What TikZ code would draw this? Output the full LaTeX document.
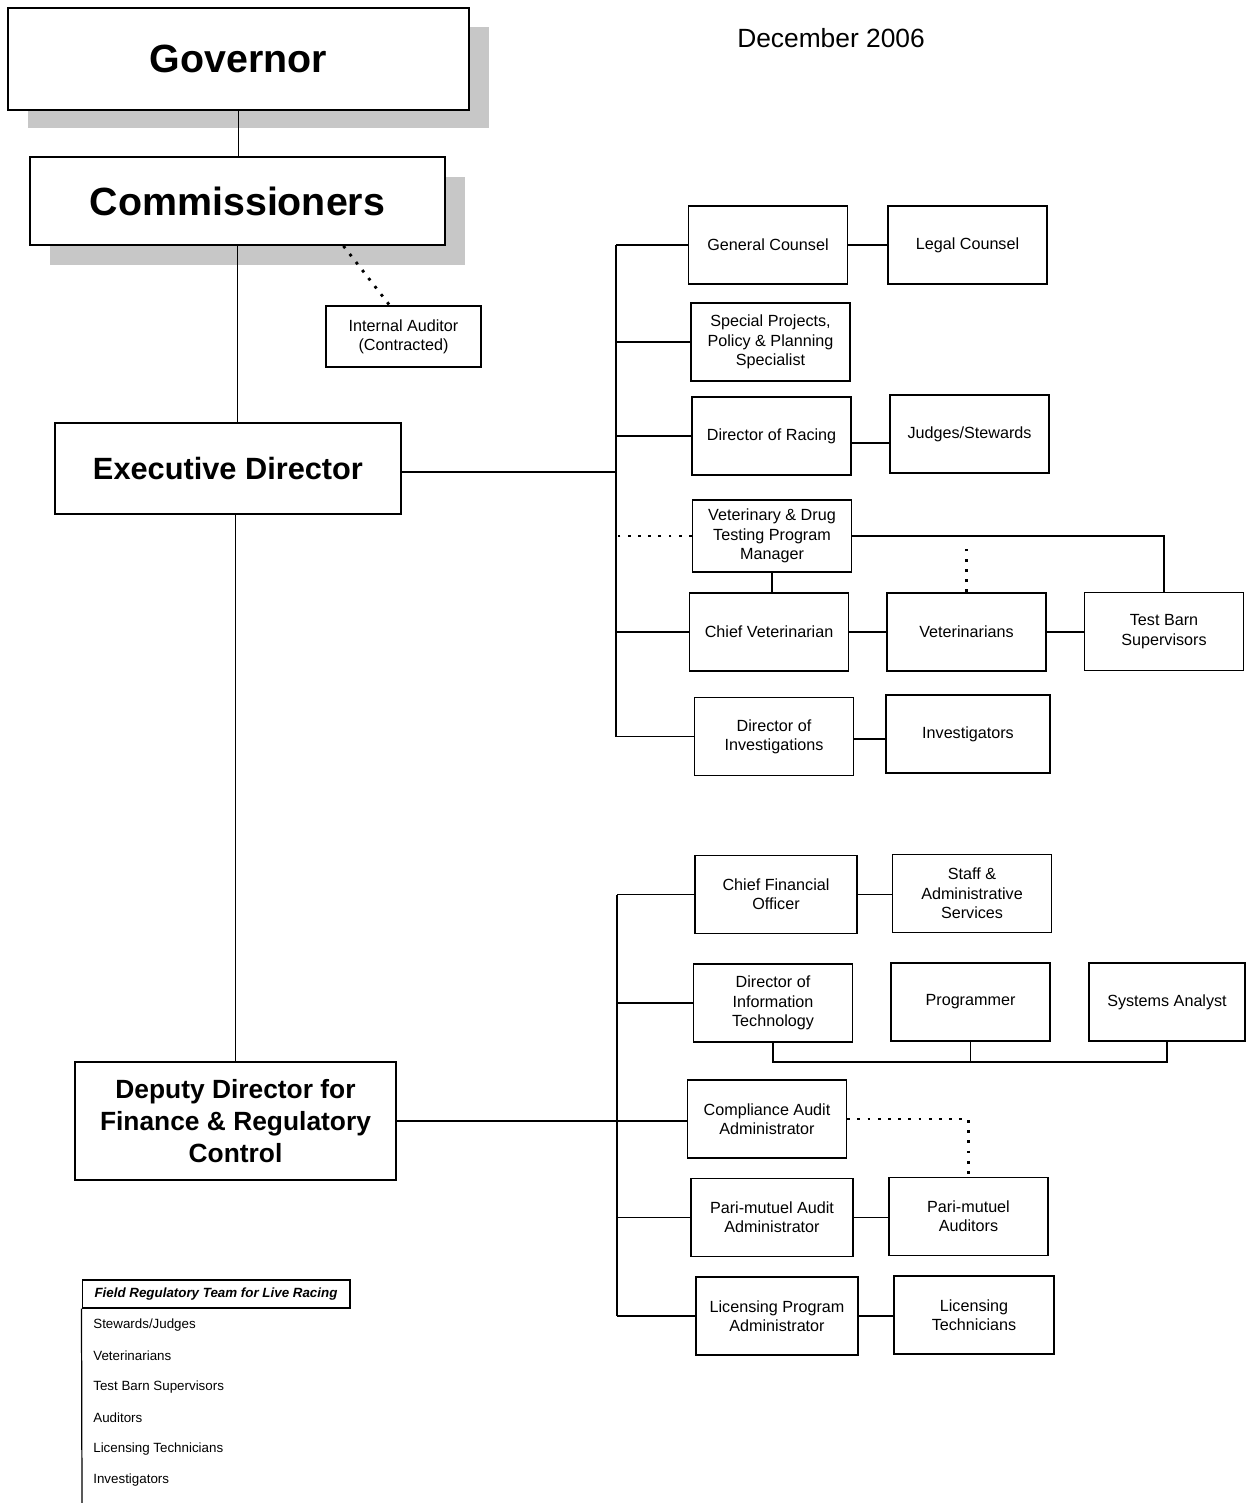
\documentclass[tikz,border=0pt]{standalone}
\usepackage{fontspec}
\setmainfont{Liberation Sans}

\begin{document}
\begin{tikzpicture}[x=0.02cm, y=-0.02cm,
        office/.style={draw, line width=0.9pt, align=center, inner sep=2pt,
          minimum width=3.18cm, minimum height=1.56cm, font=\fontsize{9.2}{11}\selectfont},
        topbox/.style={draw, line width=1.1pt, fill=white, align=center,
          font=\bfseries\fontsize{22.4}{26}\selectfont},
        link/.style={line width=0.7pt},
        dots/.style={line width=1.6pt, dash pattern=on 1.6pt off 4.2pt},
        backdrop/.style={fill=black!22},
        legitem/.style={anchor=west, inner sep=0pt, font=\fontsize{7.6}{9}\selectfont}]
        \useasboundingbox (0,0) rectangle (1245,1503);
        % grey backdrops of the two top boxes
        \fill[backdrop] (28,27) rectangle (489,128);
        \fill[backdrop] (50,177) rectangle (465,265);
        % left column
        \node[topbox, minimum width=9.22cm, minimum height=2.04cm] (gov) at (238.5,59) {Governor};
        \node[topbox, minimum width=8.3cm, minimum height=1.76cm] (comm) at (237.5,201) {Commissioners};
        \node[topbox, font=\bfseries\fontsize{17.5}{20}\selectfont,
          minimum width=6.92cm, minimum height=1.82cm] (exec) at (228,468.5) {Executive Director};
        \node[topbox, font=\bfseries\fontsize{15}{18}\selectfont,
          minimum width=6.42cm, minimum height=2.36cm] (deputy) at (235.5,1121) {Deputy Director for\\Finance \& Regulatory\\Control};
        \node[office, minimum width=3.1cm, minimum height=1.22cm] (audit) at (403.5,336.5) {Internal Auditor\\(Contracted)};
        \node[font=\fontsize{15}{18}\selectfont] (date) at (831,38) {December 2006};
        % executive branch
        \node[office] (gc) at (768,245) {General Counsel};
        \node[office] (lc) at (967.5,245) {Legal Counsel};
        \node[office] (spp) at (770.5,342) {Special Projects,\\Policy \& Planning\\Specialist};
        \node[office] (dor) at (771.5,436) {Director of Racing};
        \node[office] (js) at (969.5,434) {Judges/Stewards};
        \node[office, minimum height=1.44cm] (vdt) at (772,536) {Veterinary \& Drug\\Testing Program\\Manager};
        \node[office] (cv) at (769,632) {Chief Veterinarian};
        \node[office] (vets) at (966.5,632) {Veterinarians};
        \node[office] (tbs) at (1164,631.5) {Test Barn\\Supervisors};
        \node[office] (doi) at (774,736.5) {Director of\\Investigations};
        \node[office, minimum width=3.28cm] (inv) at (968,734) {Investigators};
        % finance branch
        \node[office, minimum width=3.24cm] (cfo) at (776,894.5) {Chief Financial\\Officer};
        \node[office] (sas) at (972,893.5) {Staff \&\\Administrative\\Services};
        \node[office] (dit) at (773,1003) {Director of\\Information\\Technology};
        \node[office] (prog) at (970.5,1002) {Programmer};
        \node[office, minimum width=3.12cm] (sa) at (1167,1002) {Systems Analyst};
        \node[office] (caa) at (767,1119) {Compliance Audit\\Administrator};
        \node[office, minimum width=3.24cm] (pmaa) at (772,1217.5) {Pari-mutuel Audit\\Administrator};
        \node[office] (pma) at (968.5,1216.5) {Pari-mutuel\\Auditors};
        \node[office, minimum width=3.24cm] (lpa) at (777,1316) {Licensing Program\\Administrator};
        \node[office, minimum width=3.2cm] (lt) at (974,1315) {Licensing\\Technicians};
        % legend
        \node[draw, line width=0.6pt, minimum width=5.36cm, minimum height=0.56cm, inner sep=0pt,
          font=\bfseries\itshape\fontsize{7.6}{9}\selectfont] (legend) at (216,1294) {Field Regulatory Team for Live Racing};
        \coordinate (legbot) at (82,1503);
        \draw[link] (legend.south west) -- (legbot);
        \foreach \txt [count=\i] in {Stewards/Judges, Veterinarians, Test Barn Supervisors,
          Auditors, Licensing Technicians, Investigators}
          \node[legitem] (item\i) at (93,1294+31*\i) {\txt};
        % chain of command
        \draw[link] (gov.south) -- (gov.south |- comm.north);
        \draw[link] (comm.south) -- (comm.south |- exec.north);
        \draw[link] (deputy.north) -- (deputy.north |- exec.south);
        \draw[dots] (comm.-23) -- (audit.114);
        % executive bus
        \coordinate (busA) at (616,0);
        \draw[link] (gc.west -| busA) -- (doi.west -| busA);
        \draw[link] ([yshift=-0.07cm]exec.east) -- ([yshift=-0.07cm]exec.east -| busA);
        \foreach \n in {gc,spp,dor,cv,doi}
          \draw[link] (\n.west) -- (\n.west -| busA);
        \draw[dots] (vdt.west) -- (vdt.west -| busA);
        \draw[link] (gc.east) -- (gc.east -| lc.west);
        \draw[link] ([yshift=-0.14cm]dor.east) -- ([yshift=-0.14cm]dor.east -| js.west);
        \draw[link] (vdt.south) -- (vdt.south |- cv.north);
        \draw[link] (vdt.east) -| (tbs.north);
        \draw[dots] (vets.north) -- ([yshift=-0.12cm]vets.north |- vdt.east);
        \draw[link] (cv.east) -- (cv.east -| vets.west);
        \draw[link] (vets.east) -- (vets.east -| tbs.west);
        \draw[link] ([yshift=-0.05cm]doi.east) -- ([yshift=-0.05cm]doi.east -| inv.west);
        % finance bus
        \coordinate (busB) at (617,0);
        \coordinate (itbar) at (0,1062);
        \draw[link] (cfo.west -| busB) -- (lpa.west -| busB);
        \draw[link] (deputy.east) -- (deputy.east -| caa.west);
        \foreach \n in {cfo,dit,pmaa,lpa}
          \draw[link] (\n.west) -- (\n.west -| busB);
        \draw[link] (cfo.east) -- (cfo.east -| sas.west);
        \draw[link] (dit.south) |- (sa.south |- itbar) -- (sa.south);
        \draw[link] (prog.south) -- (prog.south |- itbar);
        \draw[dots] (caa.east) -| (pma.north);
        \draw[link] (pmaa.east) -- (pmaa.east -| pma.west);
        \draw[link] (lpa.east) -- (lpa.east -| lt.west);
\end{tikzpicture}
\end{document}
